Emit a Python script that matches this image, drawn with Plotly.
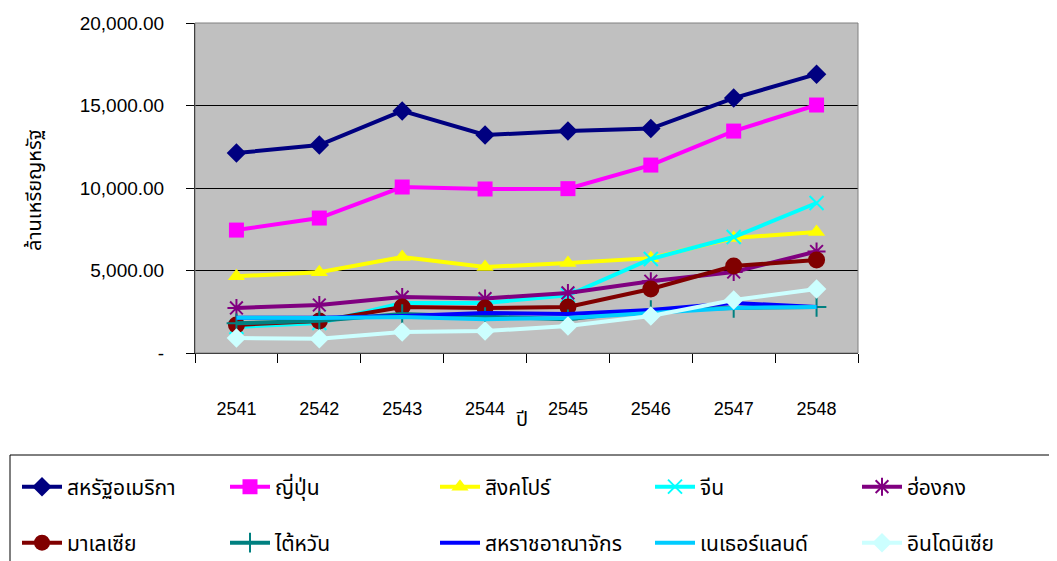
import plotly.graph_objects as go

years = ["2541", "2542", "2543", "2544", "2545", "2546", "2547", "2548"]

usa = [12120, 12600, 14670, 13210, 13450, 13600, 15450, 16900]
japan = [7450, 8180, 10060, 9940, 9960, 11390, 13450, 15030]
singapore = [4650, 4900, 5820, 5210, 5450, 5750, 6970, 7330]
china = [1580, 1820, 3030, 3030, 3500, 5700, 7030, 9090]
hongkong = [2730, 2910, 3390, 3300, 3640, 4350, 4910, 6150]
malaysia = [1700, 1940, 2790, 2730, 2790, 3880, 5270, 5640]
taiwan = [1800, 1950, 2360, 2180, 2050, 2600, 2730, 2790]
uk = [2140, 2140, 2250, 2420, 2360, 2600, 3030, 2790]
netherlands = [2140, 2120, 2180, 2050, 2120, 2450, 2730, 2790]
indonesia = [910, 860, 1270, 1330, 1640, 2240, 3210, 3880]

names = ["สหรัฐอเมริกา", "ญี่ปุ่น", "สิงคโปร์", "จีน", "ฮ่องกง",
         "มาเลเซีย", "ไต้หวัน", "สหราชอาณาจักร", "เนเธอร์แลนด์", "อินโดนิเซีย"]
series = [usa, japan, singapore, china, hongkong,
          malaysia, taiwan, uk, netherlands, indonesia]
colors = ["#000080", "#FF00FF", "#FFFF00", "#00FFFF", "#800080",
          "#800000", "#008080", "#0000FF", "#00CCFF", "#CCFFFF"]
symbols = ["diamond", "square", "triangle-up", "x-thin-open", "asterisk-open",
           "circle", "cross-thin-open", None, None, "diamond"]
sizes = [15, 15, 15, 14, 15, 17, 14, 0, 0, 15]

yticks = [0, 5000, 10000, 15000, 20000]
yticktext = ["-", "5,000.00", "10,000.00", "15,000.00", "20,000.00"]

TH = "Noto Sans Thai, Tahoma, Liberation Sans, sans-serif"
NUM = "Liberation Sans, Arial, sans-serif"

# The page body has an 8px margin; work in screenshot pixels and subtract it.
OFF = 8
W, H = 1057 - OFF, 561 - OFF
L, R, T, B = 195 - OFF, 858 - OFF, 23 - OFF, 353 - OFF

def px(xs):
    return (xs - OFF - L) / (R - L)

def py(ys):
    return (B - (ys - OFF)) / (B - T)

legend_cols = [17, 225, 435, 650, 857]
legend_rows = [487, 543]

fig = go.Figure()
legends = {}
for i, (nm, vals, col, sym, sz) in enumerate(zip(names, series, colors, symbols, sizes)):
    if sym is None:
        mode = "lines"
        marker = None
    else:
        mode = "lines+markers"
        if sym.endswith("-open"):
            marker = dict(symbol=sym, size=sz, color=col, line=dict(color=col, width=2))
        else:
            marker = dict(symbol=sym, size=sz, color=col, line=dict(width=0))
    lname = "legend" if i == 0 else f"legend{i + 1}"
    legends[lname] = dict(
        orientation="v", font=dict(family=TH, size=21, color="#000"),
        itemwidth=40, bgcolor="rgba(0,0,0,0)", borderwidth=0,
        xanchor="left", yanchor="middle",
        x=px(legend_cols[i % 5]), y=py(legend_rows[i // 5]),
    )
    fig.add_trace(go.Scatter(
        x=years, y=vals, name=nm, mode=mode,
        line=dict(color=col, width=4),
        marker=marker,
        legend=lname,
    ))

fig.update_layout(
    width=W, height=H,
    margin=dict(l=L, r=W - R, t=T, b=H - B, autoexpand=False),
    paper_bgcolor="white", plot_bgcolor="#C0C0C0",
    showlegend=True,
    xaxis=dict(
        type="category", tickson="boundaries", ticks="outside", ticklen=9,
        tickcolor="#000", tickwidth=1, showline=True, linecolor="#000", linewidth=1,
        showgrid=False, tickfont=dict(family=NUM, size=18, color="#000"),
        ticklabelstandoff=39, range=[-0.5, 7.5],
    ),
    yaxis=dict(
        range=[0, 20000], tickvals=yticks, ticktext=yticktext,
        ticks="outside", ticklen=8, tickcolor="#000", tickwidth=1,
        showline=True, linecolor="#000", linewidth=1,
        showgrid=True, gridcolor="#000", gridwidth=1, zeroline=False,
        tickfont=dict(family=NUM, size=19, color="#000"),
        ticklabelstandoff=18,
    ),
    shapes=[
        dict(type="rect", xref="paper", yref="paper", x0=0, x1=1, y0=0, y1=1,
             line=dict(color="#808080", width=1), layer="above"),
        dict(type="rect", xref="paper", yref="paper",
             x0=px(10), x1=px(1070), y0=py(455), y1=py(575),
             line=dict(color="#000", width=1)),
    ],
    annotations=[
        dict(text="ล้านเหรียญหรัฐ", xref="paper", yref="paper", x=px(35), y=py(190),
             textangle=-90, showarrow=False, xanchor="center", yanchor="middle",
             font=dict(family=TH, size=20, color="#000")),
        dict(text="ปี", xref="paper", yref="paper", x=px(522), y=py(420),
             showarrow=False, xanchor="center", yanchor="middle",
             font=dict(family=TH, size=20, color="#000")),
    ],
)
fig.update_layout(**legends)

fig.write_html("out.html")
